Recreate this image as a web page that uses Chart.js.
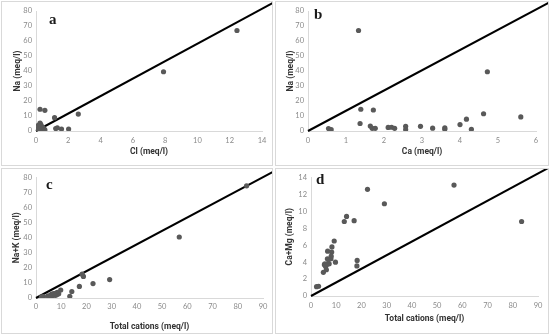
<!DOCTYPE html>
<html>
<head>
<meta charset="utf-8">
<script src="https://cdn.jsdelivr.net/npm/chart.js@4.4.1/dist/chart.umd.min.js"></script>
<style>
  html, body { margin: 0; padding: 0; background: #fff; }
  body { width: 550px; height: 335px; position: relative; overflow: hidden; }
  .panel { position: absolute; border: 1px solid #d9d9d9; background: #fff; }
  .panel canvas { display: block; }
  .letter { position: absolute; font-family: "Liberation Serif", "DejaVu Serif", serif; font-weight: bold; font-size: 15px; color: #1a1a1a; line-height: 1; }
</style>
</head>
<body>
<div class="panel" style="left:1px;top:1px;width:270px;height:163px;"><canvas id="ca" width="270" height="163"></canvas></div>
<div class="panel" style="left:275px;top:1px;width:272px;height:163px;"><canvas id="cb" width="272" height="163"></canvas></div>
<div class="panel" style="left:1px;top:168px;width:270px;height:164px;"><canvas id="cc" width="270" height="164"></canvas></div>
<div class="panel" style="left:275px;top:168px;width:272px;height:164px;"><canvas id="cd" width="272" height="164"></canvas></div>
<div class="letter" style="left:49px;top:12px;">a</div>
<div class="letter" style="left:314px;top:7px;">b</div>
<div class="letter" style="left:46px;top:177px;">c</div>
<div class="letter" style="left:316px;top:172px;">d</div>
<script>
// ---- Panel a: Cl vs Na ----
const clA = [12.45, 7.9, 2.62, 0.25, 0.55, 1.15, 1.22, 1.32, 1.58, 2.02, 0.05, 0.1, 0.15, 0.2, 0.25, 0.3, 0.35, 0.4, 0.48, 0.55, 0.12, 0.28];
const naA = [67, 39.5, 11.3, 14.5, 13.8, 8.9, 1.6, 2.1, 1.3, 1.3, 0.5, 1.5, 3.8, 2.5, 5.2, 4.2, 1.2, 2.8, 1.8, 0.8, 0.9, 3.3];
const lineAx = [0, 20];
const lineAy = [0, 116.4];

// ---- Panel b: Ca vs Na ----
const caB = [1.33, 4.72, 4.62, 5.6, 1.39, 1.72, 1.37, 1.64, 1.69, 1.77, 0.54, 0.61, 2.11, 2.2, 2.28, 2.57, 2.57, 2.96, 3.28, 3.6, 3.6, 4.0, 4.17, 4.3];
const naB = [67, 39.5, 11.5, 9.4, 14.5, 14.0, 5.0, 3.3, 1.8, 1.8, 1.6, 0.9, 2.4, 2.5, 1.8, 3.1, 1.0, 3.1, 1.9, 2.1, 1.2, 4.3, 7.9, 1.1];
const lineBx = [0, 8];
const lineBy = [0, 108];

// ---- Panel c: Total cations vs Na+K ----
const tcC = [83.5, 56.8, 29.2, 22.6, 18.3, 18.8, 17.2, 14.2, 13.4, 9.8, 9.0, 8.5, 8.2, 8.0, 7.7, 7.3, 6.8, 6.5, 6.2, 5.5, 5.0, 4.8, 5.8, 7.0, 3.0, 2.2];
const nakC = [74.5, 40.5, 12.2, 9.6, 15.8, 14.3, 7.7, 4.3, 1.1, 5.3, 2.8, 3.8, 2.2, 3.2, 1.8, 2.5, 2.0, 1.5, 2.6, 1.2, 1.0, 1.5, 1.6, 3.0, 1.0, 0.8];
const lineCx = [0, 120];
const lineCy = [0, 107];

// ---- Panel d: Total cations vs Ca+Mg ----
const tcD = [83.5, 56.7, 22.4, 29.1, 14.1, 13.2, 17.1, 18.3, 18.2, 9.2, 8.3, 8.2, 6.6, 8.0, 7.9, 6.5, 9.7, 7.2, 6.9, 5.3, 5.8, 6.1, 4.9, 5.5, 6.0, 2.2, 3.0];
const camgD = [8.8, 13.1, 12.6, 10.9, 9.4, 8.8, 8.9, 4.2, 3.55, 6.5, 5.8, 5.2, 5.3, 4.7, 4.4, 4.4, 4.0, 3.8, 3.9, 3.7, 3.5, 3.1, 2.8, 3.8, 3.6, 1.1, 1.15];
const lineDx = [0, 120];
const lineDy = [0, 19.3];

// axis settings
const axA = { xTitle: 'Cl (meq/l)', yTitle: 'Na (meq/l)', xMax: 14, xStep: 2, yMax: 80, yStep: 10 };
const axB = { xTitle: 'Ca (meq/l)', yTitle: 'Na (meq/l)', xMax: 6, xStep: 1, yMax: 80, yStep: 10 };
const axC = { xTitle: 'Total cations (meq/l)', yTitle: 'Na+K (meq/l)', xMax: 90, xStep: 10, yMax: 80, yStep: 10 };
const axD = { xTitle: 'Total cations (meq/l)', yTitle: 'Ca+Mg (meq/l)', xMax: 90, xStep: 10, yMax: 14, yStep: 2 };

const zip = (xs, ys) => xs.map((x, i) => ({ x: x, y: ys[i] }));

function makeChart(id, xs, ys, lx, ly, ax, geo) {
  const cv = document.getElementById(id);
  const W = cv.width, H = cv.height;
  const tickFont = { family: 'Lato, "Liberation Sans", sans-serif', size: 7.5 };
  const titleFont = { family: 'Roboto, "Liberation Sans", sans-serif', size: 8.5, weight: '700' };
  return new Chart(cv, {
    type: 'scatter',
    data: {
      datasets: [
        {
          data: zip(xs, ys),
          pointRadius: 2.6,
          pointBackgroundColor: '#595959',
          pointBorderWidth: 0,
          showLine: false
        },
        {
          data: zip(lx, ly),
          showLine: true,
          borderColor: '#000000',
          borderWidth: 2,
          pointRadius: 0,
          clip: false
        }
      ]
    },
    options: {
      responsive: false,
      animation: false,
      events: [],
      layout: { padding: { left: 2, right: W - geo.right, top: geo.top, bottom: 0 } },
      plugins: { legend: { display: false }, tooltip: { enabled: false } },
      scales: {
        x: {
          type: 'linear', min: 0, max: ax.xMax,
          ticks: { stepSize: ax.xStep, color: '#8a8a8a', font: tickFont, padding: geo.xTickPad, maxRotation: 0 },
          grid: { display: true, drawOnChartArea: false, drawTicks: false, color: 'rgba(0,0,0,0)' },
          border: { display: true, color: '#d9d9d9', width: 1 },
          title: { display: true, text: ax.xTitle, color: '#333333', font: titleFont, padding: { top: 0, bottom: geo.xTitlePad } },
          afterFit: (s) => { s.height = H - geo.bottom; }
        },
        y: {
          type: 'linear', min: 0, max: ax.yMax,
          ticks: { stepSize: ax.yStep, color: '#8a8a8a', font: tickFont, padding: 4 },
          grid: { display: true, drawOnChartArea: false, drawTicks: false, color: 'rgba(0,0,0,0)' },
          border: { display: true, color: '#d9d9d9', width: 1 },
          title: { display: true, text: ax.yTitle, color: '#333333', font: titleFont, padding: { top: geo.yTitlePad, bottom: 0 } },
          afterFit: (s) => { s.width = geo.left - 2; }
        }
      }
    }
  });
}

makeChart('ca', clA, naA, lineAx, lineAy, axA, { left: 34, right: 260, top: 9, bottom: 129, xTickPad: 5, xTitlePad: 8, yTitlePad: 9 });
makeChart('cb', caB, naB, lineBx, lineBy, axB, { left: 32, right: 260, top: 9, bottom: 129, xTickPad: 5, xTitlePad: 8, yTitlePad: 8 });
makeChart('cc', tcC, nakC, lineCx, lineCy, axC, { left: 34, right: 261, top: 8, bottom: 129, xTickPad: 4, xTitlePad: 1, yTitlePad: 8 });
makeChart('cd', tcD, camgD, lineDx, lineDy, axD, { left: 35, right: 262, top: 7, bottom: 127, xTickPad: 5, xTitlePad: 9, yTitlePad: 7 });
</script>
</body>
</html>
